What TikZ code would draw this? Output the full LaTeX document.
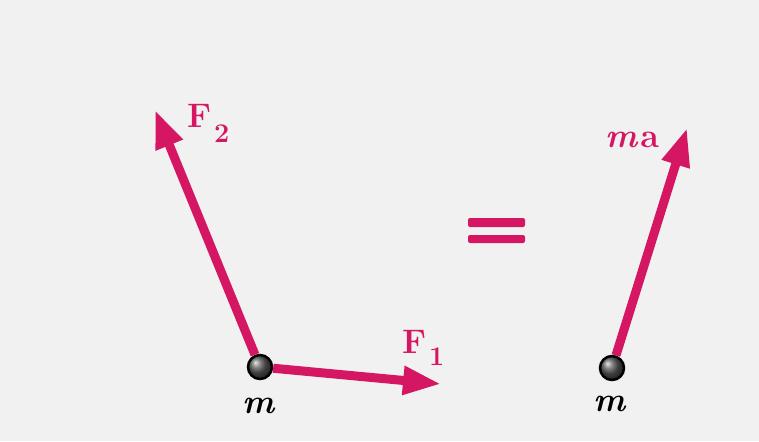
\documentclass[tikz,border=0pt]{standalone}
\usepackage{fontspec}
\usetikzlibrary{arrows.meta,shadings}
\definecolor{pinkc}{RGB}{213,22,98}
\definecolor{paper}{RGB}{242,241,241}
\tikzset{
  force/.style={line width=9pt, draw=pinkc, -{Triangle[length=38pt,width=27pt]}},
  ball/.style={circle, minimum size=24pt, inner sep=0pt, draw=black, line width=2.5pt, ball color=gray!70!black},
  flabel/.style={anchor=base west, inner sep=0pt, text=pinkc, font=\fontsize{34}{34}\selectfont\bfseries},
  mlabel/.style={anchor=base, inner sep=0pt, text=black, font=\fontsize{34}{34}\selectfont\bfseries\itshape},
  eqbar/.style={fill=pinkc, rounded corners=2pt}
}
\begin{document}
\begin{tikzpicture}[x=1pt,y=-1pt]
  \fill[paper] (0,0) rectangle (759,441);
  \useasboundingbox (0,0) rectangle (759,441);
  % left particle
  \node[ball] (m1) at (260,367) {};
  \coordinate (t1) at (441,384);
  \coordinate (t2) at (155,110);
  \draw[force] (m1) -- (t2);
  \draw[force] (m1) -- (t1);
  \node[flabel] (f2) at (187,127) {F\kern3pt\raisebox{-15pt}{\fontsize{27}{27}\selectfont 2}};
  \node[flabel] (f1) at (402,353) {F\kern3pt\raisebox{-12pt}{\fontsize{27}{27}\selectfont 1}};
  \node[mlabel] (lm1) at (259,413) {m};
  % equals sign
  \fill[eqbar] (468,218) rectangle (525,227);
  \fill[eqbar] (468,235) rectangle (525,243);
  % right particle
  \node[ball] (m2) at (612,368) {};
  \coordinate (ta) at (687,128);
  \draw[force] (m2) -- (ta);
  \node[anchor=base west, inner sep=0pt, text=pinkc, font=\fontsize{34}{34}\selectfont\bfseries] (lma) at (605,147) {\textit{m}\kern2pt a};
  \node[mlabel] (lm2) at (610,411) {m};
\end{tikzpicture}
\end{document}
